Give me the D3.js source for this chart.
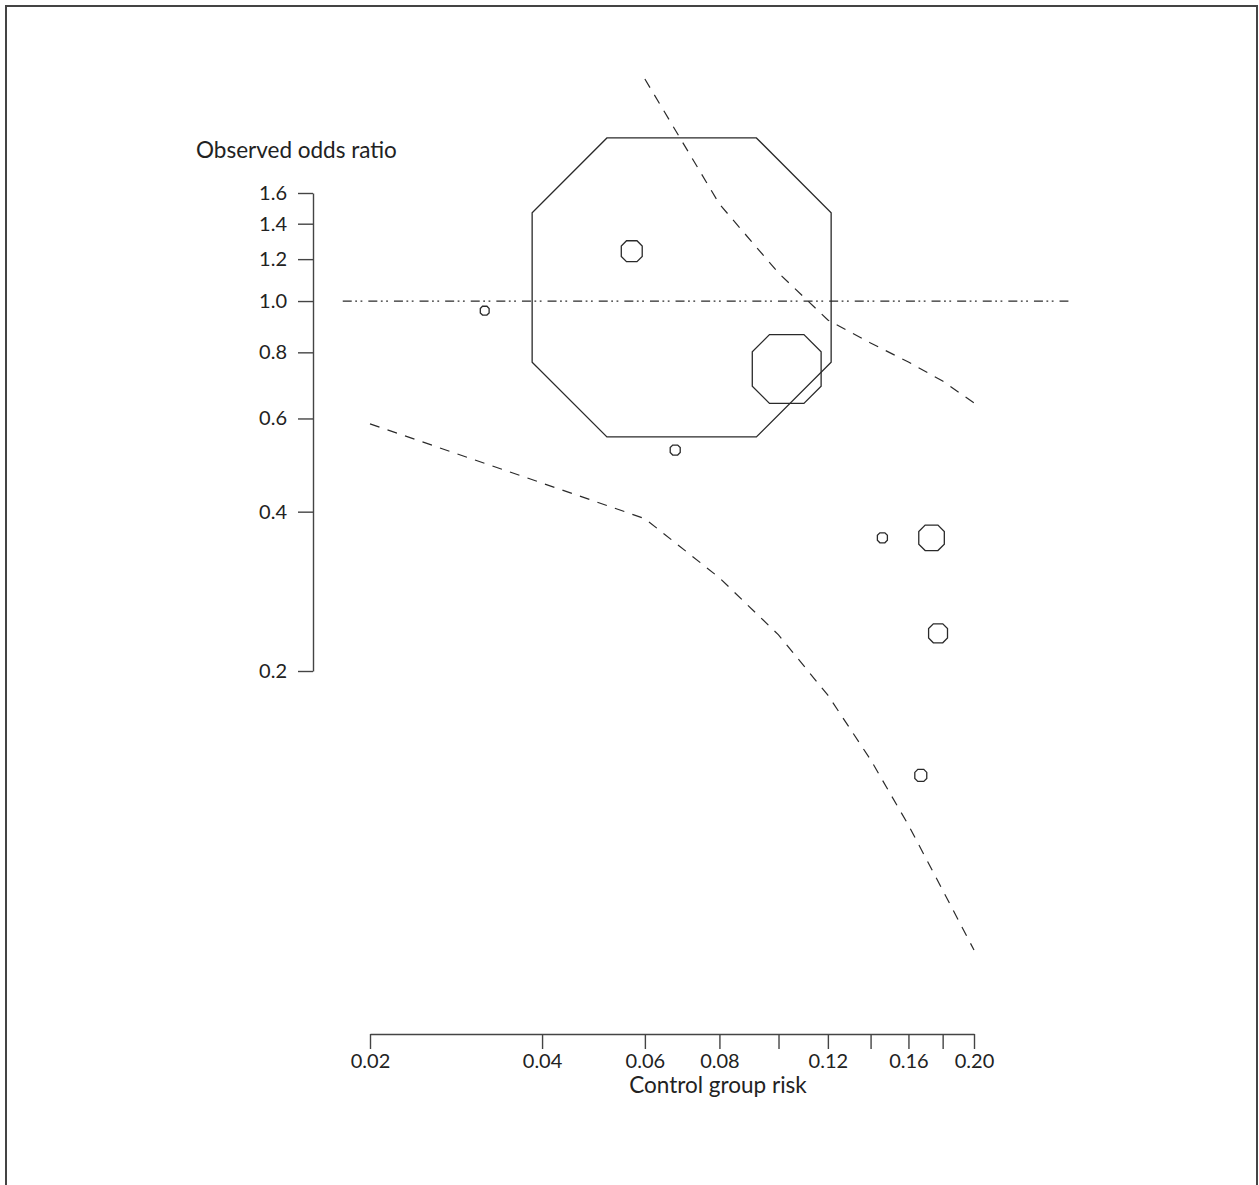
<!DOCTYPE html>
<html>
<head>
<meta charset="utf-8">
<script src="https://cdn.jsdelivr.net/npm/d3@7"></script>
<style>
  html, body { margin: 0; padding: 0; background: #fff; }
  svg { display: block; }
  text { font-family: Lato, "Open Sans", sans-serif; fill: #222; }
</style>
</head>
<body>
<svg id="chart" width="1259" height="1185"></svg>
<script>
// ---- data ----
const riskTicks = [0.02, 0.04, 0.06, 0.08, 0.10, 0.12, 0.14, 0.16, 0.18, 0.20];
const riskTickLabels = ["0.02", "0.04", "0.06", "0.08", "", "0.12", "", "0.16", "", "0.20"];
const orTicks = [0.2, 0.4, 0.6, 0.8, 1.0, 1.2, 1.4, 1.6];
const orTickLabels = ["0.2", "0.4", "0.6", "0.8", "1.0", "1.2", "1.4", "1.6"];

// studies: control group risk, observed odds ratio, relative weight
const studyRisk   = [0.0692, 0.0570, 0.1031, 0.0318, 0.0675, 0.146, 0.1733, 0.1772, 0.167];
const studyOR     = [1.061, 1.242, 0.744, 0.959, 0.523, 0.357, 0.357, 0.2356, 0.127];
const studyWeight = [1000, 4.9, 53, 0.87, 1.12, 1.12, 7.3, 4.0, 1.6];

// dashed boundary curves
const upperRisk = [0.06, 0.08, 0.10, 0.12, 0.14, 0.16, 0.18, 0.20];
const upperOR   = [2.627, 1.525, 1.130, 0.921, 0.833, 0.767, 0.706, 0.642];
const lowerRisk = [0.02, 0.04, 0.06, 0.08, 0.10, 0.12, 0.14, 0.16, 0.18, 0.20];
const lowerOR   = [0.586, 0.453, 0.388, 0.300, 0.234, 0.180, 0.136, 0.1023, 0.0771, 0.0594];

// reference line (odds ratio = 1)
const refOR = 1.0;
const refRiskExtent = [0.0179, 0.270];

const xTitle = "Control group risk";
const yTitle = "Observed odds ratio";

// ---- scales ----
const logit = p => Math.log(p / (1 - p));
const xLin = d3.scaleLinear().domain([logit(0.02), logit(0.20)]).range([370, 974]);
const x = p => xLin(logit(p));
const y = d3.scaleLog().domain([0.2, 1.6]).range([671, 193]);
const r = d3.scaleSqrt().domain([0, 1000]).range([0, 149.5]);

const svg = d3.select("#chart");
const ink = "#2a2a2a";

// frame
svg.append("rect")
  .attr("x", 6).attr("y", 6).attr("width", 1251).attr("height", 1220)
  .attr("fill", "none").attr("stroke", "#444").attr("stroke-width", 2);

// y axis
const yAxis = d3.axisLeft(y)
  .tickValues(orTicks)
  .tickFormat((d, i) => orTickLabels[i])
  .tickSize(15).tickSizeOuter(0).tickPadding(11);
const gy = svg.append("g").attr("transform", "translate(313,0)").call(yAxis);
gy.selectAll("text").style("font-size", "20px");

// x axis
const xAxis = d3.axisBottom(xLin)
  .tickValues(riskTicks.map(logit))
  .tickFormat((d, i) => riskTickLabels[i])
  .tickSize(15).tickSizeOuter(0).tickPadding(5);
const gx = svg.append("g").attr("transform", "translate(0,1034)").call(xAxis);
gx.selectAll("text").style("font-size", "20px");

[gx, gy].forEach(g => {
  g.attr("font-family", null);
  g.selectAll("path, line").attr("stroke", "#444").attr("stroke-width", 1.4);
  g.selectAll("text").attr("fill", ink);
});

// titles
svg.append("text").attr("x", 196).attr("y", 158)
  .style("font-size", "22.5px").text(yTitle);
svg.append("text").attr("x", 718).attr("y", 1093).attr("text-anchor", "middle")
  .style("font-size", "22.5px").text(xTitle);

// reference line
svg.append("line")
  .attr("x1", x(refRiskExtent[0])).attr("x2", x(refRiskExtent[1]))
  .attr("y1", y(refOR)).attr("y2", y(refOR))
  .attr("stroke", ink).attr("stroke-width", 1.2)
  .attr("stroke-dasharray", "9,3.5,1.8,3.5,1.8,6");

// boundary curves
const line = d3.line().x(d => x(d[0])).y(d => y(d[1]));
[[upperRisk, upperOR], [lowerRisk, lowerOR]].forEach(([rs, os]) => {
  svg.append("path")
    .attr("d", line(rs.map((v, i) => [v, os[i]])))
    .attr("fill", "none").attr("stroke", ink).attr("stroke-width", 1.2)
    .attr("stroke-dasharray", "10,8.5");
});

// octagon markers
const octagon = (cx, cy, a) => {
  const h = a / 2;
  const pts = [[-h, -a], [h, -a], [a, -h], [a, h], [h, a], [-h, a], [-a, h], [-a, -h]];
  return "M" + pts.map(p => [cx + p[0], cy + p[1]].join(",")).join("L") + "Z";
};
svg.append("g").selectAll("path")
  .data(studyRisk.map((v, i) => ({ risk: v, or: studyOR[i], w: studyWeight[i] })))
  .join("path")
  .attr("d", d => octagon(x(d.risk), y(d.or), r(d.w)))
  .attr("fill", "none").attr("stroke", ink).attr("stroke-width", 1.3);
</script>
</body>
</html>
